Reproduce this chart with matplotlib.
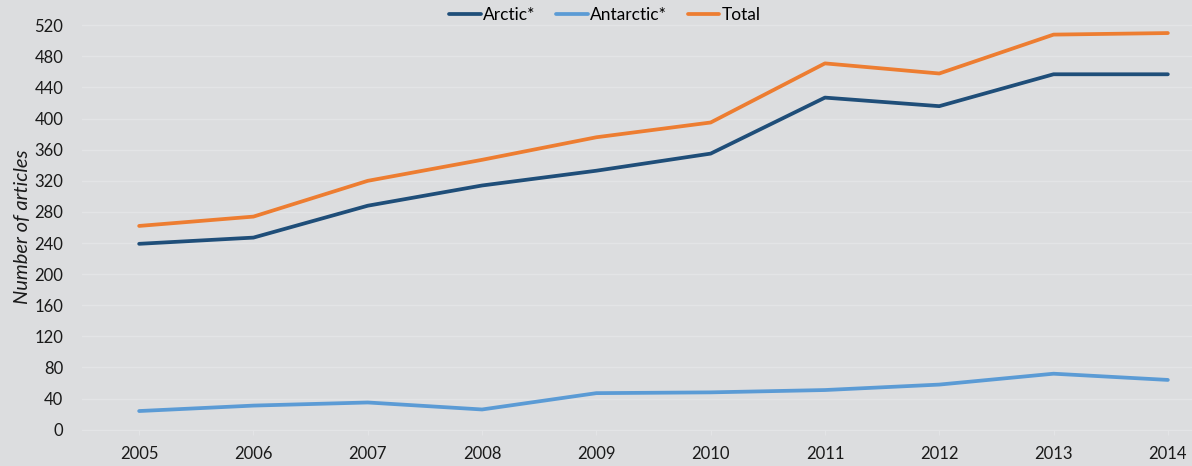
import matplotlib.pyplot as plt

years = [2005, 2006, 2007, 2008, 2009, 2010, 2011, 2012, 2013, 2014]
arctic = [239, 247, 288, 314, 333, 355, 427, 416, 457, 457]
antarctic = [24, 31, 35, 26, 47, 48, 51, 58, 72, 64]
total = [262, 274, 320, 347, 376, 395, 471, 458, 508, 510]

bg = "#dcdddf"
grid_col = "#e3e4e6"

plt.rcParams['font.family'] = ['Lato', 'DejaVu Sans']

fig = plt.figure(figsize=(11.92, 4.66), dpi=100, facecolor=bg)
# axes run slightly past the right edge, like the cropped original
ax = fig.add_axes([82 / 1192, 36.3 / 466, (1225 - 82) / 1192, 1 - 36.3 / 466])
ax.set_facecolor(bg)

ax.plot(years, arctic, color="#1f4e79", lw=2.7, label="Arctic*", solid_capstyle="round")
ax.plot(years, antarctic, color="#5b9bd5", lw=2.7, label="Antarctic*", solid_capstyle="round")
ax.plot(years, total, color="#ed7d31", lw=2.7, label="Total", solid_capstyle="round")

ax.set_xlim(2004.5, 2014.5)
ax.set_ylim(0, 552.5)
ax.set_yticks(range(0, 521, 40))
ax.set_xticks(years)

ax.grid(axis="y", color=grid_col, lw=1)
ax.set_axisbelow(True)
for s in ["top", "right", "left"]:
    ax.spines[s].set_visible(False)
ax.spines["bottom"].set_color(grid_col)

ax.tick_params(axis="y", length=0, pad=13.5, labelsize=12, labelcolor="#1a1a1a")
ax.tick_params(axis="x", length=3.6, color=grid_col, pad=8, labelsize=12, labelcolor="#1a1a1a")

ax.set_ylabel("Number of articles", fontsize=14.5, style="italic", color="#1a1a1a")
ax.yaxis.set_label_coords(-0.045, 0.472)

ax.legend(loc="center", bbox_to_anchor=(605 / 1192, 1 - 15 / 466), bbox_transform=fig.transFigure,
          ncol=3, frameon=False, fontsize=12.5, handlelength=1.8, handletextpad=0.15,
          columnspacing=1.2)

fig.savefig("out.png", dpi=100, facecolor=bg)
